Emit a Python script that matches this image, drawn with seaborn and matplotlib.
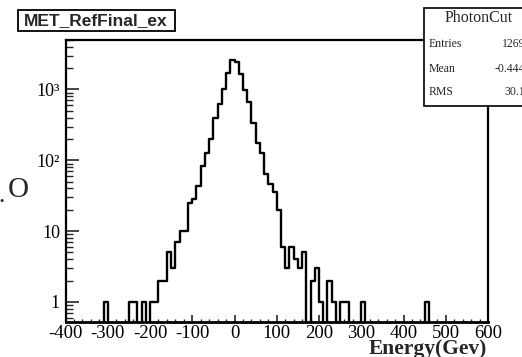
import numpy as np
import pandas as pd
import matplotlib
matplotlib.use("Agg")
import matplotlib.pyplot as plt
from matplotlib.patches import Rectangle
from matplotlib.ticker import FixedLocator, FixedFormatter, MultipleLocator, LogLocator, NullFormatter
import seaborn as sns

# ---- data (bin lower edges, counts; bins are 10 GeV wide) ----
bin_low = [-310, -250, -240, -220, -200, -190, -180, -170, -160, -150,
           -140, -130, -120, -110, -100, -90, -80, -70, -60, -50,
           -40, -30, -20, -10, 0, 10, 20, 30, 40, 50,
           60, 70, 80, 90, 100, 110, 120, 130, 140, 150,
           160, 180, 190, 200, 220, 230, 250, 260, 300, 450]
counts = [1, 1, 1, 1, 1, 1, 2, 2, 5, 3,
          7, 10, 10, 25, 28, 44, 83, 128, 198, 400,
          617, 1030, 1700, 2600, 2450, 1680, 970, 670, 340, 178,
          125, 63, 47, 36, 20, 6, 3, 6, 4, 3,
          5, 2, 3, 1, 2, 1, 1, 1, 1, 1]
bin_width = 10
x_range = (-400, 600)
x_tick_values = [-400, -300, -200, -100, 0, 100, 200, 300, 400, 500, 600]
y_tick_values = [1, 10, 100, 1000]
y_tick_labels = ["1", "10", "10\u00b2", "10\u00b3"]
title_text = "MET_RefFinal_ex"
stats_name = "PhotonCut"
stats_labels = ["Entries", "Mean", "RMS"]
stats_values = ["12699", "-0.4447", "30.16"]
x_title = "Energy(Gev)"

sns.set_theme(style="white")
plt.rcParams['font.family'] = ['Liberation Serif', 'DejaVu Serif']
plt.rcParams['axes.unicode_minus'] = False

W, H = 522, 357
fig = plt.figure(figsize=(W / 100, H / 100), dpi=100)
L, R, T, B = 65.5, 488, 40, 322
ax = fig.add_axes([L / W, 1 - B / H, (R - L) / W, (B - T) / H])

df = pd.DataFrame({"energy": np.array(bin_low, dtype=float) + bin_width / 2,
                   "w": np.array(counts, dtype=float)})
sns.histplot(data=df, x="energy", weights="w", binwidth=bin_width,
             binrange=x_range, element="step", fill=False, color="black",
             linewidth=1.7, ax=ax)
ax.set_yscale("log")
ax.set_xlim(*x_range)
ax.set_ylim(0.52, 5000)
ax.set_xlabel("")
ax.set_ylabel("")

for s in ax.spines.values():
    s.set_color("black")
    s.set_linewidth(1.6)
ax.spines["bottom"].set_linewidth(2.0)

ax.xaxis.set_major_locator(FixedLocator(x_tick_values))
ax.xaxis.set_minor_locator(MultipleLocator(20))
ax.yaxis.set_major_locator(FixedLocator(y_tick_values))
ax.yaxis.set_major_formatter(FixedFormatter(y_tick_labels))
ax.yaxis.set_minor_locator(LogLocator(base=10, subs=np.arange(2, 10)))
ax.yaxis.set_minor_formatter(NullFormatter())

ax.tick_params(axis="x", which="major", direction="in", length=5, width=1.2,
               labelsize=13.5, pad=2, bottom=True, top=False)
ax.tick_params(axis="x", which="minor", direction="in", length=2.5, width=1.0,
               bottom=True, top=False)
ax.tick_params(axis="y", which="major", direction="in", length=9, width=1.2,
               labelsize=13, pad=4, left=True, right=False)
ax.tick_params(axis="y", which="minor", direction="in", length=5, width=1.0,
               left=True, right=False)
for lab in ax.get_xticklabels() + ax.get_yticklabels():
    lab.set_color("black")

# x title
fig.text(487 / W, 1 - 349 / H, x_title, ha="right", va="center",
         fontsize=15.5, fontweight="bold", family="Liberation Serif")

# partial text at left edge
fig.text(18 / W, 1 - 190 / H, "O", ha="center", va="center", fontsize=21,
         family="Liberation Serif")
fig.text(1.5 / W, 1 - 196 / H, ".", ha="center", va="center", fontsize=18,
         family="Liberation Serif")

# title box
fig.patches.append(Rectangle((18 / W, 1 - 31 / H), (175 - 18) / W, 21 / H,
                             transform=fig.transFigure, facecolor="white",
                             edgecolor="black", linewidth=1.3))
fig.text(96 / W, 1 - 20.5 / H, title_text, ha="center", va="center",
         fontsize=12.5, fontweight="bold", family="Liberation Sans")

# stats box
fig.patches.append(Rectangle((424 / W, 1 - 106 / H), (540 - 424) / W, (106 - 8) / H,
                             transform=fig.transFigure, facecolor="white",
                             edgecolor="black", linewidth=1.2, zorder=2))
fig.add_artist(plt.Line2D([424 / W, 1.05], [1 - 27 / H, 1 - 27 / H],
                          transform=fig.transFigure, color="black", linewidth=1.0))
fig.text(479 / W, 1 - 18 / H, stats_name, ha="center", va="center",
         fontsize=11.5, family="Liberation Serif")
for lab, val, yy in zip(stats_labels, stats_values, [44, 68.5, 92]):
    fig.text(429 / W, 1 - yy / H, lab, ha="left", va="center", fontsize=8.5,
             family="Liberation Serif")
    fig.text(531 / W, 1 - yy / H, val, ha="right", va="center", fontsize=8.5,
             family="Liberation Serif")

fig.savefig("out.png", dpi=100)
